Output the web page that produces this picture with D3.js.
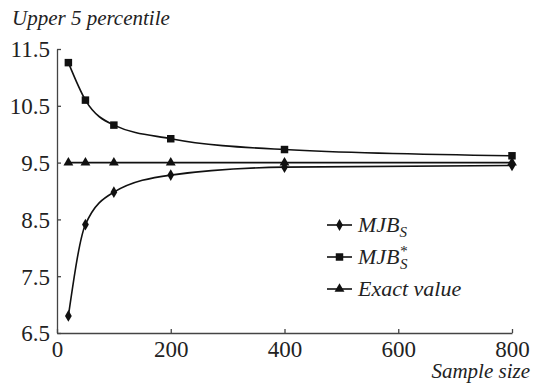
<!DOCTYPE html>
<html>
<head>
<meta charset="utf-8">
<script src="https://cdn.jsdelivr.net/npm/d3@7"></script>
</head>
<body style="margin:0">
<svg id="chart" width="534" height="383" style="font-family: 'Liberation Serif'"></svg>
<script>
// data
const sampleSizes = [20, 50, 100, 200, 400, 800];
const mjbS = [6.80, 8.41, 8.98, 9.28, 9.42, 9.45];
const mjbStar = [11.26, 10.60, 10.16, 9.92, 9.73, 9.62];
const exactValue = [9.5, 9.5, 9.5, 9.5, 9.5, 9.5];
const xTicks = [0, 200, 400, 600, 800];
const yTicks = [6.5, 7.5, 8.5, 9.5, 10.5, 11.5];

const plotLeft = 57, plotRight = 512, plotTop = 49, plotBottom = 333;
const serif = '"Liberation Serif"';

const svg = d3.select('#chart');

const x = d3.scaleLinear().domain([0, 800]).range([plotLeft, plotRight]);
const y = d3.scaleLinear().domain([6.5, 11.5]).range([plotBottom, plotTop]);

// axes (ticks point inward)
const xAxis = svg.append('g')
  .attr('transform', 'translate(0,' + plotBottom + ')')
  .call(d3.axisBottom(x).tickValues(xTicks).tickSize(-4).tickPadding(8).tickSizeOuter(0));

const yAxis = svg.append('g')
  .attr('transform', 'translate(' + plotLeft + ',0)')
  .call(d3.axisLeft(y).tickValues(yTicks).tickFormat(d3.format('.1f')).tickSize(-4).tickPadding(7).tickSizeOuter(0));

// d3 puts font-family="sans-serif" on the axis groups; drop it
xAxis.attr('font-family', null).attr('font-size', 23);
yAxis.attr('font-family', null).attr('font-size', 23);
xAxis.selectAll('text').attr('dy', '0.68em');
yAxis.selectAll('text').attr('dy', '0.34em');
svg.selectAll('.tick text')
  .style('font-family', serif)
  .attr('fill', '#222');

svg.selectAll('.domain, .tick line').attr('stroke', '#444').attr('stroke-width', 1.3);

// axis titles
svg.append('text')
  .attr('x', 12).attr('y', 25)
  .attr('font-size', 21).attr('font-style', 'italic')
  .style('font-family', serif)
  .attr('fill', '#222')
  .text('Upper 5 percentile');

svg.append('text')
  .attr('x', 530).attr('y', 378)
  .attr('text-anchor', 'end')
  .attr('font-size', 21).attr('font-style', 'italic')
  .style('font-family', serif)
  .attr('fill', '#222')
  .text('Sample size');

const series = [
  { name: 'mjb', values: mjbS, symbol: d3.symbolDiamond, size: 40 },
  { name: 'star', values: mjbStar, symbol: d3.symbolSquare, size: 56 },
  { name: 'exact', values: exactValue, symbol: d3.symbolTriangle, size: 42 }
];

const line = d3.line()
  .x(d => x(d[0]))
  .y(d => y(d[1]))
  .curve(d3.curveMonotoneX);

series.forEach(s => {
  const pts = sampleSizes.map((v, i) => [v, s.values[i]]);
  svg.append('path')
    .attr('d', line(pts))
    .attr('fill', 'none')
    .attr('stroke', '#111')
    .attr('stroke-width', 1.6);
  svg.selectAll('.m-' + s.name)
    .data(pts)
    .enter()
    .append('path')
    .attr('d', d3.symbol().type(s.symbol).size(s.size))
    .attr('transform', d => 'translate(' + x(d[0]) + ',' + y(d[1]) + ')')
    .attr('fill', '#111');
});

// legend
const legendRows = [225, 257, 289];
series.forEach((s, i) => {
  const g = svg.append('g').attr('transform', 'translate(327,' + legendRows[i] + ')');
  g.append('line').attr('x1', 0).attr('x2', 25).attr('stroke', '#111').attr('stroke-width', 1.6);
  g.append('path')
    .attr('d', d3.symbol().type(s.symbol).size(s.size))
    .attr('transform', 'translate(12.5,0)')
    .attr('fill', '#111');
  const t = g.append('text')
    .attr('x', 31).attr('y', 7)
    .attr('font-size', 22).attr('font-style', 'italic')
    .style('font-family', serif)
    .attr('fill', '#222');
  if (i === 0) {
    t.append('tspan').text('MJB');
    t.append('tspan').attr('font-size', 15).attr('dy', 5).text('S');
  } else if (i === 1) {
    t.append('tspan').text('MJB');
    t.append('tspan').attr('font-size', 15).attr('dy', -8).text('*');
    t.append('tspan').attr('font-size', 15).attr('dx', -7).attr('dy', 13).text('S');
  } else {
    t.text('Exact value');
  }
});
</script>
</body>
</html>
